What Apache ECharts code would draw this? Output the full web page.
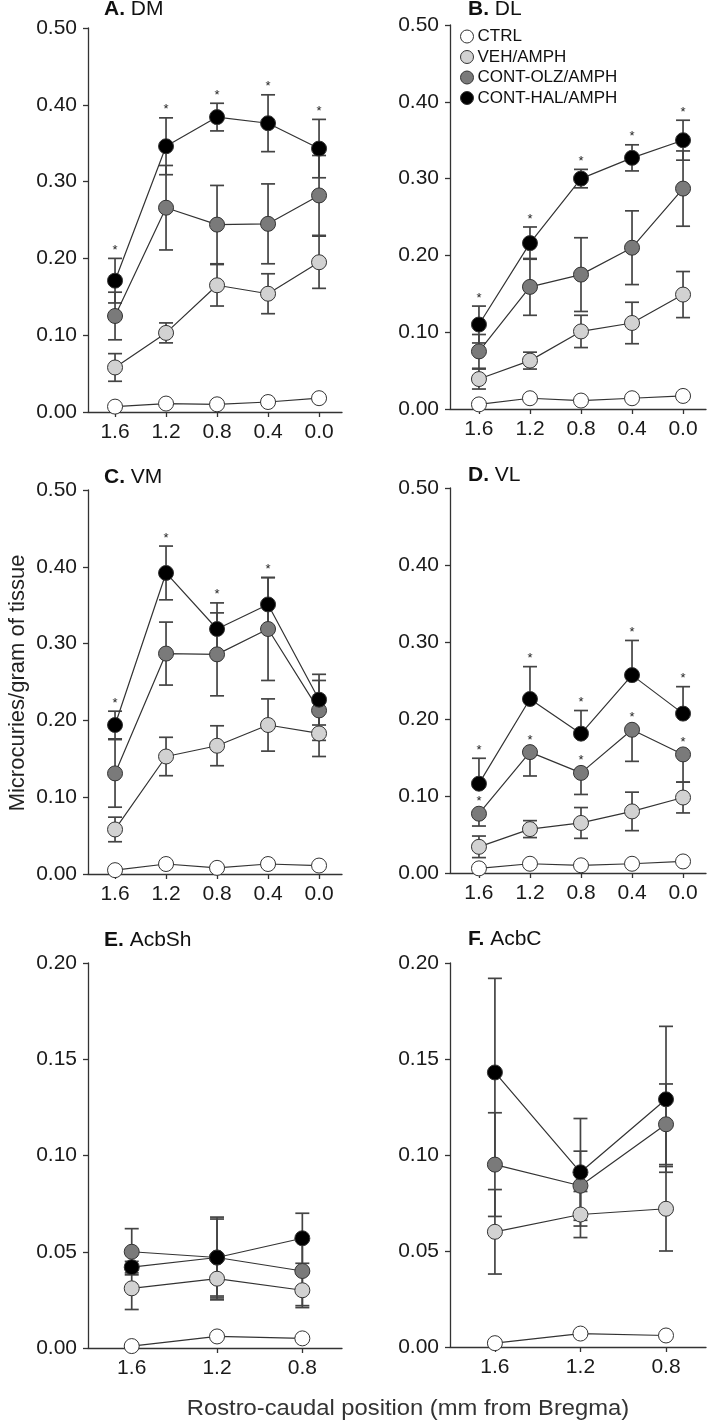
<!DOCTYPE html>
<html><head><meta charset="utf-8">
<script src="https://cdn.jsdelivr.net/npm/echarts@6/dist/echarts.min.js"></script>
<style>html,body{margin:0;padding:0;background:#fff}#c{width:707px;height:1421px}</style>
</head><body><div id="c"></div><script>
// ---------- DATA ----------
const xCats5 = ['1.6', '1.2', '0.8', '0.4', '0.0'];
const xCats3 = ['1.6', '1.2', '0.8'];
const groupNames = ['CTRL', 'VEH/AMPH', 'CONT-OLZ/AMPH', 'CONT-HAL/AMPH'];
const yTicksBig = ['0.00', '0.10', '0.20', '0.30', '0.40', '0.50'];
const yTicksSmall = ['0.00', '0.05', '0.10', '0.15', '0.20'];

// A. DM
const dmCtrl = [0.007, 0.011, 0.010, 0.013, 0.018];
const dmCtrlSem = [0.002, 0.002, 0.002, 0.002, 0.002];
const dmVeh = [0.058, 0.103, 0.165, 0.154, 0.195];
const dmVehSem = [0.018, 0.013, 0.027, 0.026, 0.034];
const dmOlz = [0.125, 0.266, 0.244, 0.245, 0.282];
const dmOlzSem = [0.031, 0.055, 0.051, 0.052, 0.052];
const dmHal = [0.171, 0.346, 0.384, 0.376, 0.343];
const dmHalSem = [0.029, 0.037, 0.018, 0.037, 0.038];
const dmHalSig = [1, 1, 1, 1, 1];

// B. DL
const dlCtrl = [0.006, 0.014, 0.011, 0.014, 0.017];
const dlCtrlSem = [0.002, 0.002, 0.002, 0.002, 0.002];
const dlVeh = [0.039, 0.063, 0.101, 0.112, 0.149];
const dlVehSem = [0.013, 0.011, 0.021, 0.027, 0.030];
const dlOlz = [0.075, 0.159, 0.175, 0.210, 0.287];
const dlOlzSem = [0.022, 0.037, 0.048, 0.048, 0.049];
const dlHal = [0.110, 0.216, 0.300, 0.327, 0.350];
const dlHalSem = [0.024, 0.021, 0.012, 0.017, 0.026];
const dlHalSig = [1, 1, 1, 1, 1];

// C. VM
const vmCtrl = [0.005, 0.013, 0.008, 0.013, 0.011];
const vmCtrlSem = [0.002, 0.002, 0.002, 0.002, 0.002];
const vmVeh = [0.058, 0.153, 0.167, 0.194, 0.183];
const vmVehSem = [0.016, 0.025, 0.026, 0.034, 0.030];
const vmOlz = [0.131, 0.287, 0.286, 0.319, 0.213];
const vmOlzSem = [0.044, 0.041, 0.054, 0.067, 0.039];
const vmHal = [0.194, 0.392, 0.319, 0.351, 0.227];
const vmHalSem = [0.018, 0.035, 0.034, 0.035, 0.033];
const vmHalSig = [1, 1, 1, 1, 0];

// D. VL
const vlCtrl = [0.006, 0.012, 0.010, 0.012, 0.015];
const vlCtrlSem = [0.002, 0.002, 0.002, 0.002, 0.002];
const vlVeh = [0.034, 0.057, 0.065, 0.080, 0.098];
const vlVehSem = [0.014, 0.011, 0.020, 0.025, 0.020];
const vlOlz = [0.077, 0.157, 0.130, 0.186, 0.154];
const vlOlzSem = [0.016, 0.031, 0.028, 0.041, 0.036];
const vlOlzSig = [1, 1, 1, 1, 1];
const vlHal = [0.116, 0.226, 0.181, 0.257, 0.207];
const vlHalSem = [0.033, 0.042, 0.030, 0.045, 0.035];
const vlHalSig = [1, 1, 1, 1, 1];

// E. AcbSh
const shCtrl = [0.001, 0.006, 0.005];
const shCtrlSem = [0.001, 0.001, 0.001];
const shVeh = [0.031, 0.036, 0.030];
const shVehSem = [0.011, 0.011, 0.009];
const shOlz = [0.050, 0.047, 0.040];
const shOlzSem = [0.012, 0.021, 0.018];
const shHal = [0.042, 0.047, 0.057];
const shHalSem = [0.003, 0.020, 0.013];

// F. AcbC
const cCtrl = [0.002, 0.007, 0.006];
const cCtrlSem = [0.001, 0.001, 0.001];
const cVeh = [0.060, 0.069, 0.072];
const cVehSem = [0.022, 0.012, 0.022];
const cOlz = [0.095, 0.084, 0.116];
const cOlzSem = [0.027, 0.018, 0.021];
const cHal = [0.143, 0.091, 0.129];
const cHalSem = [0.049, 0.028, 0.038];

// ---------- STYLE / LAYOUT ----------
const FONT = '"Liberation Sans", Arial, Helvetica, sans-serif';
const fills = ['#ffffff', '#d2d2d2', '#7a7a7a', '#000000'];
const none = null;

const panels = [
  { letter: 'A.', name: 'DM', cats: xCats5, yt: yTicksBig, means: [dmCtrl, dmVeh, dmOlz, dmHal], sems: [dmCtrlSem, dmVehSem, dmOlzSem, dmHalSem], sig: [none, none, none, dmHalSig], dir: ['both', 'both', 'both', 'both'],
    grid: { left: 88, top: 28, width: 254, height: 384 }, xr: [-0.180, 1.812], title: [104, -1] },
  { letter: 'B.', name: 'DL', cats: xCats5, yt: yTicksBig, means: [dlCtrl, dlVeh, dlOlz, dlHal], sems: [dlCtrlSem, dlVehSem, dlOlzSem, dlHalSem], sig: [none, none, none, dlHalSig], dir: ['both', 'both', 'both', 'both'],
    grid: { left: 450, top: 25, width: 256, height: 384 }, xr: [-0.180, 1.827], title: [468, -1] },
  { letter: 'C.', name: 'VM', cats: xCats5, yt: yTicksBig, means: [vmCtrl, vmVeh, vmOlz, vmHal], sems: [vmCtrlSem, vmVehSem, vmOlzSem, vmHalSem], sig: [none, none, none, vmHalSig], dir: ['both', 'both', 'both', 'both'],
    grid: { left: 88, top: 490, width: 254, height: 384 }, xr: [-0.180, 1.812], title: [104, 467] },
  { letter: 'D.', name: 'VL', cats: xCats5, yt: yTicksBig, means: [vlCtrl, vlVeh, vlOlz, vlHal], sems: [vlCtrlSem, vlVehSem, vlOlzSem, vlHalSem], sig: [none, none, vlOlzSig, vlHalSig], dir: ['both', 'both', 'down', 'up'],
    grid: { left: 450, top: 488, width: 256, height: 385 }, xr: [-0.180, 1.827], title: [468, 465] },
  { letter: 'E.', name: 'AcbSh', cats: xCats3, yt: yTicksSmall, means: [shCtrl, shVeh, shOlz, shHal], sems: [shCtrlSem, shVehSem, shOlzSem, shHalSem], sig: [none, none, none, none], dir: ['both', 'both', 'both', 'both'],
    grid: { left: 88, top: 963, width: 254, height: 385 }, xr: [0.614, 1.805], title: [104, 930] },
  { letter: 'F.', name: 'AcbC', cats: xCats3, yt: yTicksSmall, means: [cCtrl, cVeh, cOlz, cHal], sems: [cCtrlSem, cVehSem, cOlzSem, cHalSem], sig: [none, none, none, none], dir: ['both', 'both', 'both', 'both'],
    grid: { left: 450, top: 963, width: 256, height: 384 }, xr: [0.613, 1.810], title: [468, 929] }
];

function errRenderer(dir) {
  return function (params, api) {
    const x = api.value(0), m = api.value(1), s = api.value(2), sig = api.value(3);
    const pc = api.coord([x, m]);
    const pt = api.coord([x, m + s]);
    const pb = api.coord([x, m - s]);
    const st = { stroke: '#444', lineWidth: 1.7 };
    const ch = [];
    const cap = 7;
    const up = dir !== 'down', dn = dir !== 'up';
    if (s > 0) {
      if (up) {
        ch.push({ type: 'line', shape: { x1: pc[0], y1: pc[1], x2: pt[0], y2: pt[1] }, style: st });
        ch.push({ type: 'line', shape: { x1: pc[0] - cap, y1: pt[1], x2: pc[0] + cap, y2: pt[1] }, style: st });
      }
      if (dn) {
        ch.push({ type: 'line', shape: { x1: pc[0], y1: pc[1], x2: pb[0], y2: pb[1] }, style: st });
        ch.push({ type: 'line', shape: { x1: pc[0] - cap, y1: pb[1], x2: pc[0] + cap, y2: pb[1] }, style: st });
      }
    }
    if (sig) {
      const yTop = (up && s > 0) ? pt[1] : pc[1] - 4;
      ch.push({ type: 'text', style: { text: '*', x: pc[0], y: yTop - 8, align: 'center', verticalAlign: 'middle', fontSize: 13, fontFamily: FONT, fill: '#222' } });
    }
    return { type: 'group', children: ch };
  };
}

const grids = [], xAxes = [], yAxes = [], series = [], titles = [];
panels.forEach((p, i) => {
  grids.push(Object.assign({ containLabel: false }, p.grid));
  const xv = p.cats.map(c => parseFloat(c));
  xAxes.push({
    gridIndex: i, type: 'value', inverse: true, min: p.xr[0], max: p.xr[1],
    axisLine: { show: true, onZero: false, lineStyle: { color: '#333', width: 1.3 } },
    axisTick: { show: true, inside: false, length: 5, customValues: xv, lineStyle: { color: '#333', width: 1.3 } },
    axisLabel: { show: true, customValues: xv, margin: 10, fontSize: 21, fontFamily: FONT, color: '#1a1a1a',
      formatter: v => { const k = xv.findIndex(t => Math.abs(t - v) < 1e-6); return k >= 0 ? p.cats[k] : ''; } },
    splitLine: { show: false }
  });
  const yv = p.yt.map(t => parseFloat(t));
  yAxes.push({
    gridIndex: i, type: 'value', min: yv[0], max: yv[yv.length - 1], interval: yv[1] - yv[0],
    axisLine: { show: true, onZero: false, lineStyle: { color: '#333', width: 1.3 } },
    axisTick: { show: true, inside: false, length: 5, lineStyle: { color: '#333', width: 1.3 } },
    axisLabel: { margin: 11, fontSize: 21, fontFamily: FONT, color: '#1a1a1a',
      formatter: v => { const k = yv.findIndex(t => Math.abs(t - v) < 1e-9); return k >= 0 ? p.yt[k] : ''; } },
    splitLine: { show: false }
  });
  titles.push({
    text: '{b|' + p.letter + '} ' + p.name, left: p.title[0], top: p.title[1], padding: 0,
    textStyle: { fontSize: 21, fontWeight: 'normal', fontFamily: FONT, color: '#111',
      rich: { b: { fontSize: 21, fontWeight: 'bold', fontFamily: FONT, color: '#111' } } }
  });
  for (let g = 0; g < 4; g++) {
    const data = xv.map((x, k) => [x, p.means[g][k], p.sems[g][k], p.sig[g] ? p.sig[g][k] : 0]);
    series.push({
      type: 'custom', name: groupNames[g] + ' err', xAxisIndex: i, yAxisIndex: i, z: 1, silent: true,
      renderItem: errRenderer(p.dir[g]), data: data, clip: false
    });
  }
  for (let g = 0; g < 4; g++) {
    series.push({
      type: 'line', name: groupNames[g], xAxisIndex: i, yAxisIndex: i, z: 3 + g,
      data: xv.map((x, k) => [x, p.means[g][k]]),
      symbol: 'circle', symbolSize: 15, showSymbol: true,
      itemStyle: { color: fills[g], borderColor: '#333', borderWidth: 1 },
      lineStyle: { color: '#333', width: 1.2 },
      emphasis: { disabled: true }, animation: false
    });
  }
});

const chart = echarts.init(document.getElementById('c'), null, { renderer: 'canvas' });
chart.setOption({
  animation: false,
  backgroundColor: '#ffffff',
  title: titles,
  grid: grids,
  xAxis: xAxes,
  yAxis: yAxes,
  legend: {
    data: groupNames, orient: 'vertical', left: 460, top: 28, itemGap: 3.5, itemWidth: 13, itemHeight: 13,
    icon: 'circle', padding: 0, itemStyle: { borderColor: '#333', borderWidth: 1 },
    textStyle: { fontSize: 17, fontFamily: FONT, color: '#111', padding: [0, 0, 0, -1] }
  },
  graphic: [
    { type: 'text', x: 18, y: 683, rotation: Math.PI / 2, style: { text: 'Microcuries/gram of tissue', align: 'center', verticalAlign: 'middle', fontSize: 22, fontFamily: FONT, fill: '#222' } },
    { type: 'text', x: 408, y: 1409, scaleX: 1.08, style: { text: 'Rostro-caudal position (mm from Bregma)', align: 'center', verticalAlign: 'middle', fontSize: 22, fontFamily: FONT, fill: '#333' } }
  ],
  series: series
});
</script></body></html>
